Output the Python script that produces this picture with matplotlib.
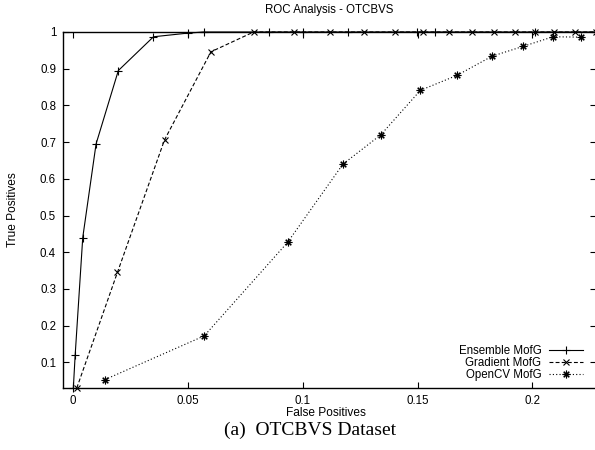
import matplotlib
matplotlib.use("Agg")
import matplotlib.pyplot as plt

# ---- data ----
ens_x = [0.0001, 0.0009, 0.0042, 0.0100, 0.0197, 0.0350, 0.0500, 0.0568,
         0.0851, 0.1003, 0.1195, 0.1498, 0.1577, 0.2013, 0.2275]
ens_y = [0.030, 0.120, 0.440, 0.695, 0.895, 0.987, 0.997, 1.0,
         1.0, 1.0, 1.0, 1.0, 1.0, 1.0, 1.0]

grad_x = [0.0016, 0.0193, 0.0398, 0.0600, 0.0786, 0.0960, 0.1117, 0.1268,
          0.1403, 0.1525, 0.1635, 0.1737, 0.1831, 0.1926, 0.2013, 0.2093,
          0.2187, 0.2275]
grad_y = [0.030, 0.345, 0.706, 0.946, 1.0, 1.0, 1.0, 1.0,
          1.0, 1.0, 1.0, 1.0, 1.0, 1.0, 1.0, 1.0,
          1.0, 1.0]

cv_x = [0.0139, 0.0571, 0.0934, 0.1175, 0.1340, 0.1512, 0.1672, 0.1824,
        0.1960, 0.2090, 0.2212]
cv_y = [0.053, 0.172, 0.427, 0.640, 0.720, 0.841, 0.882, 0.934,
        0.961, 0.987, 0.986]

series_labels = ["Ensemble MofG", "Gradient MofG", "OpenCV MofG"]
x_ticks = [0, 0.05, 0.1, 0.15, 0.2]
x_tick_labels = ["0", "0.05", "0.1", "0.15", "0.2"]
y_ticks = [0.1, 0.2, 0.3, 0.4, 0.5, 0.6, 0.7, 0.8, 0.9, 1.0]
y_tick_labels = ["0.1", "0.2", "0.3", "0.4", "0.5", "0.6", "0.7", "0.8", "0.9", "1"]

title = "ROC Analysis - OTCBVS"
xlabel = "False Positives"
ylabel = "True Positives"
caption = "(a)  OTCBVS Dataset"

plt.rcParams['font.family'] = ['Liberation Sans', 'DejaVu Sans']
fs = 8.3

fig = plt.figure(figsize=(5.95, 4.5), dpi=100)
ax = fig.add_axes([63/595, 62/450, 1 - 63/595 + 0.001, (388-32)/450])

lw = 0.8
ax.plot(ens_x, ens_y, color='black', lw=lw, ls='-', marker='+', ms=5.5,
        mew=0.8, label=series_labels[0], zorder=3, clip_on=False)
ax.plot(grad_x, grad_y, color='black', lw=lw, ls=(0, (3.5, 2)), marker='x',
        ms=4.5, mew=0.8, label=series_labels[1], zorder=3, clip_on=False)
ax.plot(cv_x, cv_y, color='black', lw=lw, ls=(0, (1, 2)), marker=(8, 2, 0),
        ms=5.5, mew=0.8, label=series_labels[2], zorder=3, clip_on=False)

ax.set_xlim(-0.0044, 0.2275)
ax.set_ylim(0.03, 1.0)
ax.set_xticks(x_ticks)
ax.set_xticklabels(x_tick_labels)
ax.set_yticks(y_ticks)
ax.set_yticklabels(y_tick_labels)
ax.tick_params(direction='in', top=True, right=True, length=4.5, width=0.8,
               labelsize=fs, pad=5)
for s in ax.spines.values():
    s.set_linewidth(1.0)

fig.text(329/595, 1 - 10/450, title, ha='center', va='center', fontsize=fs)
fig.text(326/595, 1 - 413/450, xlabel, ha='center', va='center', fontsize=fs + 0.3)
fig.text(13/595, 1 - 210/450, ylabel, ha='center', va='center', fontsize=fs + 0.3,
         rotation=90)
fig.text(310/595, 1 - 430/450, caption, ha='center', va='center', fontsize=14,
         family=['Liberation Serif', 'DejaVu Serif'])

leg = ax.legend(loc='lower right', bbox_to_anchor=(583/595, 69/450),
                bbox_transform=fig.transFigure, frameon=False, markerfirst=False,
                fontsize=fs, handlelength=2.95, labelspacing=0.0,
                borderpad=0, borderaxespad=0, handletextpad=0.67)

fig.savefig("out.png", dpi=100)
